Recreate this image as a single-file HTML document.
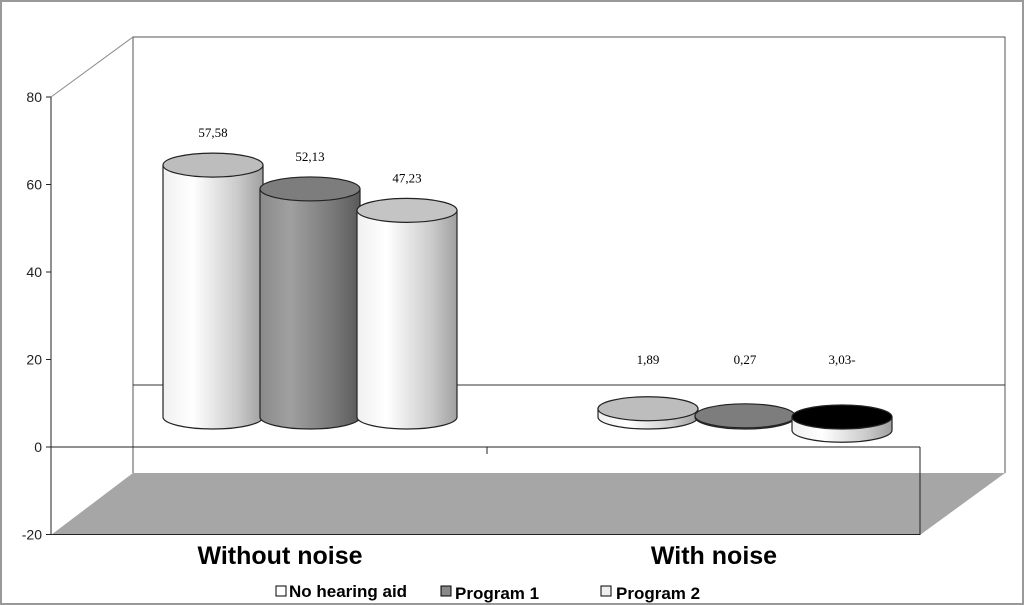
<!DOCTYPE html>
<html><head><meta charset="utf-8"><style>
body{margin:0;background:#fff;}
svg{display:block;font-family:"Liberation Sans",sans-serif;}
</style></head><body>
<svg id="chart" width="1024" height="605" viewBox="0 0 1024 605">
<defs>
<linearGradient id="gLight" x1="0" x2="1"><stop offset="0" stop-color="#f0f0f0"/><stop offset="0.3" stop-color="#ffffff"/><stop offset="0.75" stop-color="#cacaca"/><stop offset="1" stop-color="#a0a0a0"/></linearGradient>
<linearGradient id="gDark" x1="0" x2="1"><stop offset="0" stop-color="#8a8a8a"/><stop offset="0.3" stop-color="#a0a0a0"/><stop offset="0.75" stop-color="#777"/><stop offset="1" stop-color="#5a5a5a"/></linearGradient>
</defs>
<rect x="1" y="1" width="1022" height="603" fill="#fff" stroke="#999" stroke-width="2"/>
<polygon points="51,535 133,473 1005,473 920,535" fill="#a6a6a6"/>
<polyline points="133,473 133,37 1005,37 1005,473" fill="none" stroke="#555"/>
<line x1="51" y1="97" x2="133" y2="37" stroke="#888"/>
<line x1="133" y1="385" x2="1005" y2="385" stroke="#333"/>
<g id="axis"></g>
<g id="bars"></g>
<text x="280" y="564" font-size="25" font-weight="bold" text-anchor="middle">Without noise</text>
<text x="714" y="564" font-size="25" font-weight="bold" text-anchor="middle">With noise</text>
<g font-size="17" font-weight="bold">
<rect x="276" y="586" width="10" height="10" fill="#fff" stroke="#000"/>
<text x="289" y="597">No hearing aid</text>
<rect x="441" y="586" width="10" height="10" fill="#888" stroke="#000"/>
<text x="455" y="599">Program 1</text>
<rect x="601" y="586" width="10" height="10" fill="#eee" stroke="#000"/>
<text x="616" y="599">Program 2</text>
</g>
</svg>
<script>
const categories=["Without noise","With noise"];
const noAid=[57.58,1.89];
const program1=[52.13,0.27];
const program2=[47.23,-3.03];
const labelsNoAid=["57,58","1,89"];
const labelsP1=["52,13","0,27"];
const labelsP2=["47,23","3,03-"];
const yTicks=[80,60,40,20,0,-20];

const NS="http://www.w3.org/2000/svg";
function yFront(v){return 447-v*4.375;}
function yMid(v){return 417-v*4.375;}
function mk(tag,attrs,parent){const e=document.createElementNS(NS,tag);for(const k in attrs)e.setAttribute(k,attrs[k]);parent.appendChild(e);return e;}
const axis=document.getElementById('axis');
const bars=document.getElementById('bars');
let l=mk('line',{x1:51,y1:yFront(80),x2:51,y2:yFront(-20),stroke:'#222'},axis);


yTicks.forEach(t=>{
  const y=yFront(t);
  const tk=mk('line',{x1:46,y1:y,x2:51,y2:y,stroke:'#222'},axis);
  
  
  const tx=mk('text',{x:42,y:y+5,'font-size':14,'text-anchor':'end',fill:'#222'},axis);
  tx.textContent=t;
  
  
});
let z=mk('line',{x1:51,y1:yFront(0),x2:920,y2:yFront(0),stroke:'#222'},axis);


let bx=mk('polyline',{points:`51,${yFront(-20)} 920,${yFront(-20)} 920,${yFront(0)}`,fill:'none',stroke:'#222'},axis);


let ct=mk('line',{x1:487,y1:yFront(0),x2:487,y2:yFront(0)+7,stroke:'#222'},axis);



const catCenter=[310,745];
const series=[
 {vals:noAid,labels:labelsNoAid,side:'url(#gLight)',top:'#bdbdbd',name:'no-hearing-aid'},
 {vals:program1,labels:labelsP1,side:'url(#gDark)',top:'#7d7d7d',name:'program-1'},
 {vals:program2,labels:labelsP2,side:'url(#gLight)',top:'#c4c4c4',name:'program-2'}];
const rx=50, ry=12, gap=97;
categories.forEach((c,ci)=>{
  series.forEach((s,si)=>{
    const cx=catCenter[ci]+(si-1)*gap;
    const v=s.vals[ci];
    const yTop=yMid(Math.max(v,0)), yBot=yMid(Math.min(v,0));
    const g=mk('g',{},bars);
    
    
    mk('path',{d:`M${cx-rx},${yTop} L${cx-rx},${yBot} A${rx},${ry} 0 0 0 ${cx+rx},${yBot} L${cx+rx},${yTop} Z`,fill:s.side,stroke:'#222','stroke-width':1.2},g);
    mk('ellipse',{cx:cx,cy:yTop,rx:rx,ry:ry,fill:v<0?'#000':s.top,stroke:'#222','stroke-width':1.2},g);
    const ly=Math.min(yTop-28,364);
    const t=mk('text',{x:cx,y:ly,'font-size':13,'text-anchor':'middle','font-family':'Liberation Serif, serif'},bars);
    t.textContent=s.labels[ci];
    
    
  });
});
</script>
</body></html>
